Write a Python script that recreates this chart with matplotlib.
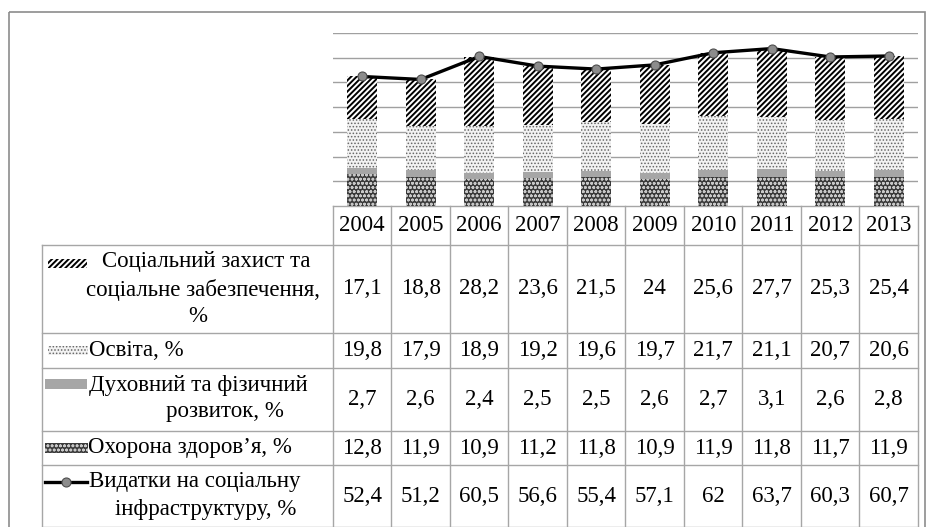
import matplotlib
matplotlib.use('Agg')
import matplotlib.pyplot as plt
from matplotlib.patches import Rectangle
import numpy as np

plt.rcParams['font.family'] = ['Liberation Serif', 'DejaVu Serif']

years = ['2004', '2005', '2006', '2007', '2008', '2009', '2010', '2011', '2012', '2013']
social = [17.1, 18.8, 28.2, 23.6, 21.5, 24, 25.6, 27.7, 25.3, 25.4]
education = [19.8, 17.9, 18.9, 19.2, 19.6, 19.7, 21.7, 21.1, 20.7, 20.6]
culture = [2.7, 2.6, 2.4, 2.5, 2.5, 2.6, 2.7, 3.1, 2.6, 2.8]
health = [12.8, 11.9, 10.9, 11.2, 11.8, 10.9, 11.9, 11.8, 11.7, 11.9]
total = [52.4, 51.2, 60.5, 56.6, 55.4, 57.1, 62, 63.7, 60.3, 60.7]

W, H = 927, 527
GRID = '#a0a0a0'
FS = 16.5

# styles for each series: (facecolor, hatch, hatch colour, hatch lw)
styles = {
    'health': ('#3a3a3a', 'oooo', '#c8c8c8', 0.8),
    'culture': ('#a6a6a6', None, '#a6a6a6', 1.0),
    'education': ('#f2f2f2', '.....', '#666666', 0.7),
    'social': ('white', '//////', 'black', 1.4),
}


def hatched_bar(ax, x, h, bottom, key, width):
    fc, hatch, hc, hlw = styles[key]
    with plt.rc_context({'hatch.linewidth': hlw}):
        bars = ax.bar(x, h, width, bottom=bottom, color=fc, edgecolor=hc,
                      hatch=hatch, linewidth=0)
    for b in bars:
        if hasattr(b, 'set_hatch_linewidth'):
            b.set_hatch_linewidth(hlw)
    return bars


def key_rect(ax, x0, x1, yc, h, key):
    fc, hatch, hc, hlw = styles[key]
    with plt.rc_context({'hatch.linewidth': hlw}):
        r = Rectangle((x0, yc - h / 2), x1 - x0, h, facecolor=fc, edgecolor=hc,
                      hatch=hatch, linewidth=0)
    if hasattr(r, 'set_hatch_linewidth'):
        r.set_hatch_linewidth(hlw)
    ax.add_patch(r)


fig = plt.figure(figsize=(W / 100, H / 100), dpi=100)

# overlay in pixel coordinates for the data table and frame
ov = fig.add_axes([0, 0, 1, 1])
ov.set_xlim(0, W)
ov.set_ylim(H, 0)
ov.axis('off')

x_left, x_right = 333, 918
y_axis, y_top = 206, 33
ax = fig.add_axes([x_left / W, (H - y_axis) / H, (x_right - x_left) / W, (y_axis - y_top) / H])
ax.patch.set_alpha(0)

x = np.arange(len(years))
bw = 0.52
b0 = np.zeros(len(years))
hatched_bar(ax, x, health, b0, 'health', bw)
b1 = b0 + np.array(health)
hatched_bar(ax, x, culture, b1, 'culture', bw)
b2 = b1 + np.array(culture)
hatched_bar(ax, x, education, b2, 'education', bw)
b3 = b2 + np.array(education)
hatched_bar(ax, x, social, b3, 'social', bw)
ax.plot(x, total, color='black', lw=2.4, marker='o', ms=6.5,
        mfc='#8c8c8c', mec='#4d4d4d', mew=0.8, zorder=5)

ax.set_xlim(-0.5, len(years) - 0.5)
ax.set_ylim(0, 70)
ax.set_yticks(np.arange(10, 71, 10))
ax.yaxis.grid(True, color=GRID, lw=1)
ax.set_axisbelow(True)
ax.tick_params(left=False, bottom=False, labelleft=False, labelbottom=False)
for s in ax.spines.values():
    s.set_visible(False)

# outer frame
ov.add_patch(Rectangle((9, 12), 916, 540, fill=False, edgecolor='#8c8c8c', lw=1.2))

# data table
LINE = '#a6a6a6'
col_w = (x_right - x_left) / len(years)
edges = [x_left + i * col_w for i in range(len(years) + 1)]
rows = [245, 333, 368, 431, 465, 527]
tab_left = 42
ov.plot([x_left, x_right], [y_axis, y_axis], color=LINE, lw=1)
for e in edges:
    ov.plot([e, e], [y_axis, rows[-1]], color=LINE, lw=1)
ov.plot([tab_left, tab_left], [rows[0], rows[-1]], color=LINE, lw=1)
for r in rows:
    ov.plot([tab_left, x_right], [r, r], color=LINE, lw=1)

centers = [(edges[i] + edges[i + 1]) / 2 for i in range(len(years))]
for c, yr in zip(centers, years):
    ov.text(c, (y_axis + rows[0]) / 2, yr, ha='center', va='center', fontsize=FS)


def fmt(v):
    return f'{v:g}'.replace('.', ',')


series_rows = [social, education, culture, health, total]
for k, vals in enumerate(series_rows):
    yc = (rows[k] + rows[k + 1]) / 2
    for c, v in zip(centers, vals):
        ov.text(c, yc, fmt(v), ha='center', va='center', fontsize=FS)

# legend column
ov.text(206, 262, 'Соціальний захист та', ha='center', va='center', fontsize=FS)
ov.text(203, 290, 'соціальне забезпечення,', ha='center', va='center', fontsize=FS)
ov.text(198, 317, '%', ha='center', va='center', fontsize=FS)
key_rect(ov, 48, 87, 263, 9, 'social')

ov.text(89, 350, 'Освіта, %', ha='left', va='center', fontsize=FS)
key_rect(ov, 48, 88, 350, 9, 'education')

ov.text(89, 385, 'Духовний та фізичний', ha='left', va='center', fontsize=FS)
ov.text(225, 412, 'розвиток, %', ha='center', va='center', fontsize=FS)
key_rect(ov, 45, 87, 384, 10, 'culture')

ov.text(88, 448, 'Охорона здоров’я, %', ha='left', va='center', fontsize=FS)
key_rect(ov, 45, 88, 448, 10, 'health')

ov.text(89, 482, 'Видатки на соціальну', ha='left', va='center', fontsize=FS)
ov.text(206, 509, 'інфраструктуру, %', ha='center', va='center', fontsize=FS)
ov.plot([45, 87], [482, 482], color='black', lw=2.4)
ov.plot([66], [482], marker='o', ms=6.5, mfc='#8c8c8c', mec='#4d4d4d', mew=0.8)

fig.savefig('out.png', dpi=100)
